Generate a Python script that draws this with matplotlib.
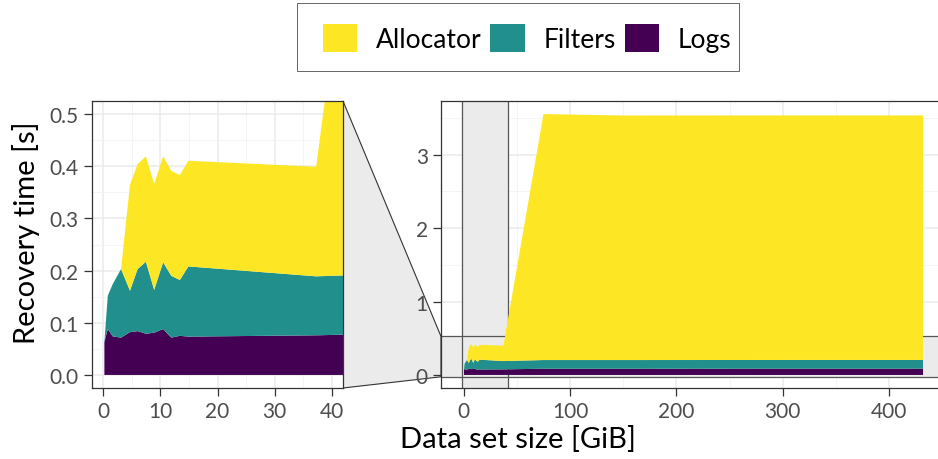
import matplotlib
matplotlib.use('Agg')
import matplotlib.pyplot as plt
from matplotlib.patches import Patch, Rectangle, Polygon
from matplotlib.ticker import MultipleLocator

plt.rcParams['font.family'] = ['Lato', 'DejaVu Sans']

# data set size [GiB]
sizes = [0.17, 0.77, 1.63, 3.09, 4.66, 6.0, 7.45, 8.9, 10.47, 11.9, 13.4, 14.9, 37.3, 75, 150, 300, 432]
# recovery time per component [s]
logs = [0.063, 0.088, 0.074, 0.0715, 0.082, 0.084, 0.079, 0.081, 0.088, 0.0715, 0.075, 0.0735, 0.076,
        0.085, 0.085, 0.086, 0.086]
filters = [0.0, 0.064, 0.100, 0.1315, 0.0795, 0.119, 0.138, 0.082, 0.128, 0.1185, 0.107, 0.1345, 0.113,
           0.118, 0.118, 0.118, 0.118]
allocator = [0.0, 0.0, 0.0, 0.0, 0.203, 0.201, 0.202, 0.203, 0.203, 0.201, 0.201, 0.2025, 0.21,
             3.35, 3.33, 3.33, 3.33]

labels = ['Allocator', 'Filters', 'Logs']
colors = {'Allocator': '#FDE725', 'Filters': '#21908C', 'Logs': '#440154'}

# zoomed region (x in GiB, y in s)
zoom_x = (-2, 42)
zoom_y = (-0.025, 0.525)

W, H = 938, 460
fig = plt.figure(figsize=(W / 100, H / 100), dpi=100)


def px_box(x0, y0, x1, y1):
    return [x0 / W, 1 - y1 / H, (x1 - x0) / W, (y1 - y0) / H]


ax_zoom = fig.add_axes(px_box(92, 102, 343, 389))
ax_full = fig.add_axes(px_box(441, 102, 946, 389))


def style_axes(ax, mx, my):
    ax.xaxis.set_major_locator(MultipleLocator(mx))
    ax.xaxis.set_minor_locator(MultipleLocator(mx / 2))
    ax.yaxis.set_major_locator(MultipleLocator(my))
    ax.yaxis.set_minor_locator(MultipleLocator(my / 2))
    ax.grid(which='major', color='#ebebeb', lw=1.1)
    ax.grid(which='minor', color='#f3f3f3', lw=0.6)
    ax.set_axisbelow(True)
    for s in ax.spines.values():
        s.set_color('#333333')
        s.set_linewidth(0.9)
    ax.tick_params(which='major', length=5.5, width=0.9, color='#333333',
                   labelcolor='#4d4d4d', labelsize=15, pad=4)
    ax.tick_params(which='minor', length=0)


stack_colors = [colors['Logs'], colors['Filters'], colors['Allocator']]
for ax in (ax_zoom, ax_full):
    ax.stackplot(sizes, logs, filters, allocator, colors=stack_colors, lw=0, zorder=2)

# left: zoomed view
ax_zoom.set_xlim(*zoom_x)
ax_zoom.set_ylim(*zoom_y)
style_axes(ax_zoom, 10, 0.1)
ax_zoom.yaxis.set_major_formatter(matplotlib.ticker.FormatStrFormatter('%.1f'))

# right: full view with zoom indicator bands
span = sizes[-1] - sizes[0]
ax_full.set_xlim(sizes[0] - 0.05 * span, sizes[-1] + 0.05 * span)
ymax = max(l + f + a for l, f, a in zip(logs, filters, allocator))
ax_full.set_ylim(-0.05 * ymax, 1.05 * ymax)
style_axes(ax_full, 100, 1)
ax_full.axvspan(*zoom_x, color='#ebebeb', lw=0, zorder=1)
ax_full.axhspan(*zoom_y, color='#ebebeb', lw=0, zorder=1)
for v in zoom_x:
    ax_full.axvline(v, color='#555555', lw=0.9, zorder=1.5)
for v in zoom_y:
    ax_full.axhline(v, color='#555555', lw=0.9, zorder=1.5)

# connector between the two panels
to_fig = fig.transFigure.inverted()
p_tr = to_fig.transform(ax_zoom.transAxes.transform((1, 1)))
p_br = to_fig.transform(ax_zoom.transAxes.transform((1, 0)))
x_left = ax_full.get_xlim()[0]
q_t = to_fig.transform(ax_full.transData.transform((x_left, zoom_y[1])))
q_b = to_fig.transform(ax_full.transData.transform((x_left, zoom_y[0])))
fig.patches.append(Polygon([p_tr, q_t, q_b, p_br], closed=True, transform=fig.transFigure,
                           facecolor='#ebebeb', edgecolor='#333333', lw=0.8, zorder=-1))

# axis titles
fig.text(26 / W, 1 - 233 / H, 'Recovery time [s]', rotation=90, ha='center', va='center', fontsize=21)
fig.text(518 / W, 1 - 440 / H, 'Data set size [GiB]', ha='center', va='center', fontsize=21)

# legend
fig.patches.append(Rectangle((297 / W, 1 - 72 / H), 442 / W, 68 / H, transform=fig.transFigure,
                             facecolor='white', edgecolor='#666666', lw=0.7, zorder=0))
handles = [Patch(facecolor=colors[k], edgecolor='none') for k in labels]
fig.legend(handles, labels, loc='center', bbox_to_anchor=(527 / W, 1 - 39 / H), ncol=3,
           frameon=False, fontsize=19, handlelength=1.3, handleheight=1.3,
           handletextpad=0.7, columnspacing=0.35)

fig.savefig('out.png', dpi=100)
